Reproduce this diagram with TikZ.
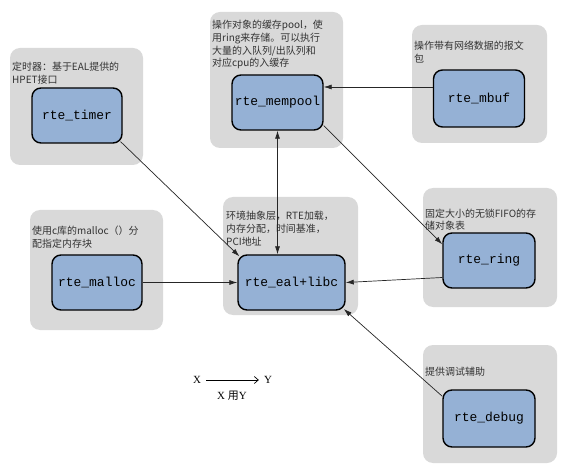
\documentclass[tikz,border=0pt]{standalone}
\usepackage{fontspec}
\setmainfont{Liberation Serif}
\newfontfamily\cjk{Noto Sans CJK SC}
\newfontfamily\monof{Liberation Mono}
\usetikzlibrary{arrows.meta}
\definecolor{boxgray}{HTML}{D9D9D9}
\definecolor{nodeblue}{HTML}{95B1D5}
\begin{document}
\begin{tikzpicture}[x=1bp,y=-1bp,
  panel/.style={fill=boxgray, rounded corners=10bp},
  mod/.style={draw=black, line width=1.4bp, fill=nodeblue, rounded corners=9bp,
    minimum width=91bp, minimum height=55bp, inner sep=0,
    font=\monof\fontsize{13}{15}\selectfont},
  note/.style={anchor=north west, align=left, inner sep=0,
    font=\cjk\fontsize{10}{12.8}\selectfont, text=black!80},
  tip/.tip={Latex[length=8bp,width=5bp]},
  conn/.style={draw=black!85, line width=0.7bp, -tip}]
\useasboundingbox (0,0) rectangle (580,475);
\fill[white] (0,0) rectangle (580,475);
% panels
\path[panel] (10,48) rectangle (143,165);
\path[panel] (210,12) rectangle (343,148);
\path[panel] (412,25) rectangle (547,143);
\path[panel] (30,210) rectangle (163,330);
\path[panel] (223,197) rectangle (358,315);
\path[panel] (423,188) rectangle (557,307);
\path[panel] (423,345) rectangle (557,463);
% notes
\node[note] (ntimer) at (12,62) {定时器：基于EAL提供的\\HPET接口};
\node[note] (nmempool) at (212,20) {操作对象的缓存pool，使\\用ring来存储。可以执行\\大量的入队列/出队列和\\对应cpu的入缓存};
\node[note] (nmbuf) at (414,41) {操作带有网络数据的报文\\包};
\node[note] (nmalloc) at (32,226) {使用c库的malloc（）分\\配指定内存块};
\node[note] (neal) at (226,211) {环境抽象层，RTE加载，\\内存分配，时间基准，\\PCI地址};
\node[note] (nring) at (425,208.5) {固定大小的无锁FIFO的存\\储对象表};
\node[note] (ndebug) at (425,367) {提供调试辅助};
% modules
\node[mod, minimum width=90bp] (timer) at (77,115.5) {rte\_timer};
\node[mod] (mempool) at (277.5,102.5) {rte\_mempool};
\node[mod, minimum height=57bp] (mbuf) at (479,98.5) {rte\_mbuf};
\node[mod, minimum width=90bp] (malloc) at (97,282.5) {rte\_malloc};
\node[mod, minimum width=107bp] (eal) at (291.5,282.5) {rte\_eal+libc};
\node[mod, minimum width=92bp] (ring) at (489,260.5) {rte\_ring};
\node[mod, minimum width=92bp, minimum height=57bp] (debug) at (489,418.5) {rte\_debug};
% connectors
\draw[conn, shorten <=-3bp, shorten >=-3bp] (timer.south east) -- (eal.north west);
\draw[conn, tip-tip] (mempool.south) -- (mempool.south |- eal.north);
\draw[conn] ([yshift=11.5bp]mbuf.west) -- ([yshift=11.5bp]mbuf.west -| mempool.east);
\draw[conn] ([yshift=5bp]mempool.south east) -- ([yshift=-12bp]ring.north west);
\draw[conn] (malloc.east) -- (eal.west);
\draw[conn] ([yshift=-17bp]ring.west) -- (eal.east);
\draw[conn, shorten >=-2.5bp] ([yshift=-7bp]debug.north west) -- (eal.south east);
% legend
\node[font=\fontsize{11}{13}\selectfont, inner sep=1bp] (lx) at (197,380) {X};
\node[font=\fontsize{11}{13}\selectfont, inner sep=1bp] (ly) at (268,380) {Y};
\draw[line width=0.7bp, -{Straight Barb[length=4bp,width=7bp]}, shorten <=4bp, shorten >=4bp] (lx) -- (ly);
\node[font=\fontsize{11}{13}\selectfont, inner sep=0] (lt) at (232,396) {X {\cjk 用}Y};
\end{tikzpicture}
\end{document}
